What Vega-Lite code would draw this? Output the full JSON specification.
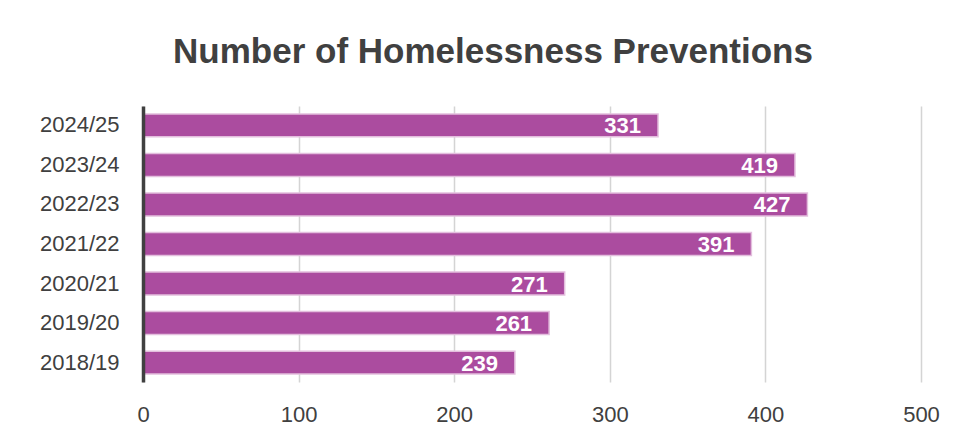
{
  "$schema": "https://vega.github.io/schema/vega-lite/v6.json",
  "autosize": {"type": "none"},
  "width": 778,
  "height": 276,
  "padding": {"left": 143, "top": 106, "right": 52, "bottom": 58},
  "background": "white",
  "title": {
    "text": "Number of Homelessness Preventions",
    "font": "Liberation Sans",
    "fontSize": 35,
    "fontWeight": "bold",
    "color": "#404040",
    "anchor": "middle",
    "baseline": "alphabetic",
    "offset": 8,
    "dx": -39
  },
  "data": {
    "values": [
      {"year": "2024/25", "value": 331},
      {"year": "2023/24", "value": 419},
      {"year": "2022/23", "value": 427},
      {"year": "2021/22", "value": 391},
      {"year": "2020/21", "value": 271},
      {"year": "2019/20", "value": 261},
      {"year": "2018/19", "value": 239}
    ]
  },
  "encoding": {
    "y": {
      "field": "year",
      "type": "nominal",
      "sort": null,
      "scale": {"paddingInner": 0.42, "paddingOuter": 0.2},
      "axis": {
        "title": null,
        "ticks": false,
        "zindex": 2,
        "labelPadding": 24,
        "labelFont": "Liberation Sans",
        "labelFontSize": 22,
        "labelColor": "#404040",
        "domainColor": "#404040",
        "domainWidth": 3.5,
        "grid": false
      }
    },
    "x": {
      "field": "value",
      "type": "quantitative",
      "scale": {"domain": [0, 500], "nice": false},
      "axis": {
        "title": null,
        "values": [0, 100, 200, 300, 400, 500],
        "ticks": false,
        "domain": false,
        "labelFlush": false,
        "labelPadding": 22,
        "labelFont": "Liberation Sans",
        "labelFontSize": 22,
        "labelColor": "#404040",
        "gridColor": "#d4d4d4",
        "gridWidth": 1.5
      }
    }
  },
  "layer": [
    {
      "mark": {"type": "bar", "color": "#AB4C9F", "stroke": "#E3BEDD", "strokeWidth": 1.5}
    },
    {
      "mark": {
        "type": "text",
        "align": "right",
        "baseline": "middle",
        "dx": -17,
        "dy": 1,
        "color": "white",
        "font": "Liberation Sans",
        "fontSize": 22,
        "fontWeight": "bold"
      },
      "encoding": {"text": {"field": "value", "type": "quantitative"}}
    }
  ],
  "config": {"view": {"stroke": null}}
}
